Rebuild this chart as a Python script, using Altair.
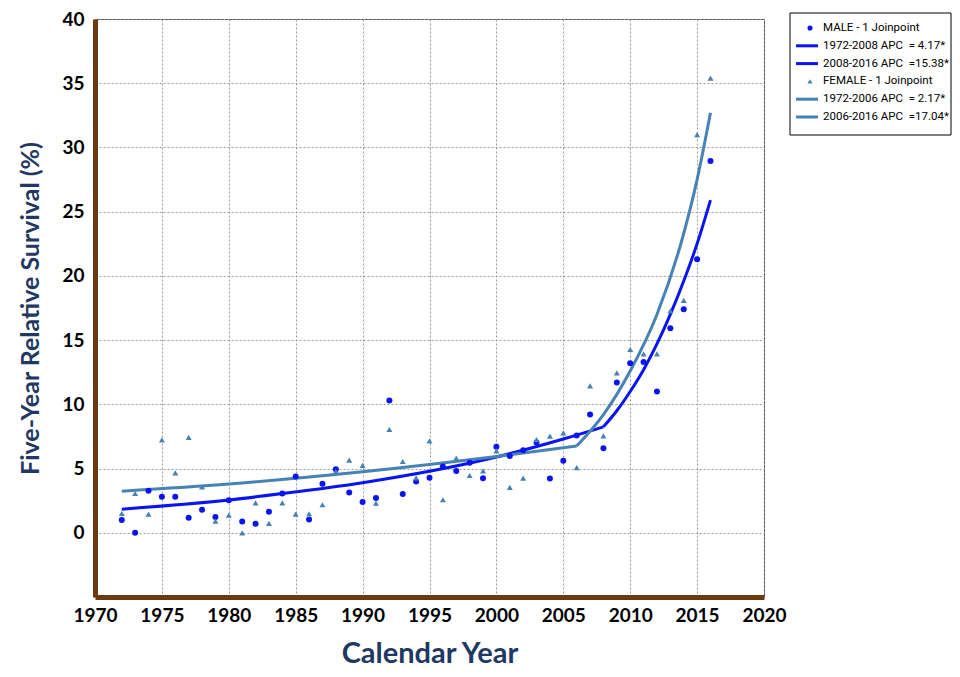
import altair as alt
import pandas as pd

years = list(range(1972, 2017))
male = [1.0, 0.0, 3.27, 2.8, 2.8, 1.17, 1.79, 1.22, 2.54, 0.88,
        0.70, 1.63, 3.06, 4.38, 1.04, 3.81, 4.95, 3.14, 2.39, 2.70,
        10.3, 3.01, 3.99, 4.28, 5.16, 4.80, 5.45, 4.25, 6.69, 5.97,
        6.43, 7.03, 4.23, 5.60, 7.57, 9.21, 6.59, 11.7, 13.2, 13.3,
        11.0, 15.93, 17.4, 21.3, 28.95]
female = [1.5, 3.06, 1.45, 7.24, 4.67, 7.42, 3.58, 0.91, 1.38, 0.0,
          2.33, 0.73, 2.33, 1.45, 1.48, 2.18, 4.77, 5.66, 5.24, 2.31,
          8.04, 5.55, 4.28, 7.16, 2.57, 5.81, 4.46, 4.82, 6.38, 3.53,
          4.25, 7.26, 7.52, 7.78, 5.08, 11.44, 7.55, 12.45, 14.27, 13.93,
          13.93, 17.28, 18.1, 31.0, 35.4]

# fitted joinpoint lines
male_fit1_x = [1972, 1980, 1984, 1990, 2000, 2005, 2008]
male_fit1_y = [1.84, 2.55, 3.05, 3.9, 5.9, 7.3, 8.25]
male_fit2_x = [2008, 2009, 2010, 2011, 2012, 2013, 2014, 2015, 2016]
male_fit2_y = [8.25, 9.5, 11.0, 12.7, 14.7, 17.0, 19.6, 22.5, 25.9]
female_fit1_x = [1972, 1980, 1990, 2000, 2006]
female_fit1_y = [3.24, 3.8, 4.75, 5.94, 6.75]
female_fit2_x = [2006, 2008, 2010, 2012, 2014, 2015, 2016]
female_fit2_y = [6.75, 9.2, 12.6, 17.0, 23.3, 27.5, 32.7]

labels = ["MALE - 1 Joinpoint",
          "1972-2008 APC\u00a0\u00a0= 4.17*",
          "2008-2016 APC\u00a0\u00a0=15.38*",
          "FEMALE - 1 Joinpoint",
          "1972-2006 APC\u00a0\u00a0= 2.17*",
          "2006-2016 APC\u00a0\u00a0=17.04*"]
kinds = ["point", "line", "line", "point", "line", "line"]
BLUE = "#0A14F0"
STEEL = "#4682B4"
colors = [BLUE, BLUE, BLUE, STEEL, STEEL, STEEL]
shapes = ["circle", "square", "square", "triangle-up", "square", "square"]

pts = pd.DataFrame({
    "year": years + years,
    "value": male + female,
    "series": [labels[0]] * len(years) + [labels[3]] * len(years),
})

fits = pd.DataFrame({
    "year": male_fit1_x + male_fit2_x + female_fit1_x + female_fit2_x,
    "value": male_fit1_y + male_fit2_y + female_fit1_y + female_fit2_y,
    "series": [labels[1]] * len(male_fit1_x) + [labels[2]] * len(male_fit2_x)
              + [labels[4]] * len(female_fit1_x) + [labels[5]] * len(female_fit2_x),
})

leg = pd.DataFrame({"series": labels, "kind": kinds})
box = pd.DataFrame({"k": [0]})

xscale = alt.Scale(domain=[1970, 2020], nice=False, zero=False)
yscale = alt.Scale(domain=[-5, 40], nice=False)
TITLE_COLOR = "#1F3864"
BROWN = "#6B3A10"

xaxis = alt.Axis(values=list(range(1970, 2021, 5)), format="d", title="Calendar Year",
                 titleFontSize=29, titlePadding=14, labelPadding=9, labelFlush=False)
yaxis = alt.Axis(values=list(range(0, 41, 5)), title="Five-Year Relative Survival (%)",
                 titleFontSize=25, titlePadding=18, labelPadding=11)

color_scale = alt.Scale(domain=labels, range=colors)
shape_scale = alt.Scale(domain=labels, range=shapes)

points = alt.Chart(pts).mark_point(filled=True, opacity=1, size=36).encode(
    x=alt.X("year:Q", scale=xscale, axis=xaxis),
    y=alt.Y("value:Q", scale=yscale, axis=yaxis),
    color=alt.Color("series:N", scale=color_scale, legend=None),
    shape=alt.Shape("series:N", scale=shape_scale, legend=None),
)

lines = alt.Chart(fits).mark_line(strokeWidth=3, interpolate="monotone").encode(
    x=alt.X("year:Q", scale=xscale, axis=xaxis),
    y=alt.Y("value:Q", scale=yscale, axis=yaxis),
    color=alt.Color("series:N", scale=color_scale, legend=None),
)

main = alt.layer(lines, points)

# ---- legend (drawn as marks in the right-hand padding) ----
leg_y = alt.Y("series:N", scale=alt.Scale(type="point", domain=labels, range=[9, 98], padding=0), axis=None)

leg_box = alt.Chart(box).mark_rect(fill="white", stroke="black", strokeWidth=1).encode(
    x=alt.value(695), x2=alt.value(856), y=alt.value(-6), y2=alt.value(116)
)
leg_lines = alt.Chart(leg).transform_filter(alt.datum.kind == "line").mark_rule(strokeWidth=3).encode(
    x=alt.value(701), x2=alt.value(723), y=leg_y,
    color=alt.Color("series:N", scale=color_scale, legend=None),
)
leg_pts = alt.Chart(leg).transform_filter(alt.datum.kind == "point").mark_point(
    filled=True, opacity=1, size=26).encode(
    x=alt.value(715), y=leg_y,
    color=alt.Color("series:N", scale=color_scale, legend=None),
    shape=alt.Shape("series:N", scale=shape_scale, legend=None),
)
leg_text = alt.Chart(leg).mark_text(align="left", baseline="middle", font="Roboto",
                                    fontSize=11.5, color="black").encode(
    x=alt.value(728), y=leg_y, text="series:N",
)
legend_layer = alt.layer(leg_box, leg_lines, leg_pts, leg_text)

chart = alt.layer(main, legend_layer).resolve_scale(y="independent").properties(
    width=669, height=578,
    autosize=alt.AutoSizeParams(type="none"),
    padding={"left": 87, "top": 11, "right": 188, "bottom": 72},
).configure_view(
    stroke="#444", strokeWidth=1
).configure_axis(
    labelFont="Lato", labelFontWeight="bold", labelFontSize=19, labelColor="black",
    titleFont="Lato", titleFontWeight="bold", titleColor=TITLE_COLOR,
    domainColor=BROWN, domainWidth=5, ticks=False,
    gridColor="#9a9a9a", gridDash=[2, 2], gridWidth=1,
)

chart.save("out.html", embed_options={"renderer": "svg", "actions": False})
